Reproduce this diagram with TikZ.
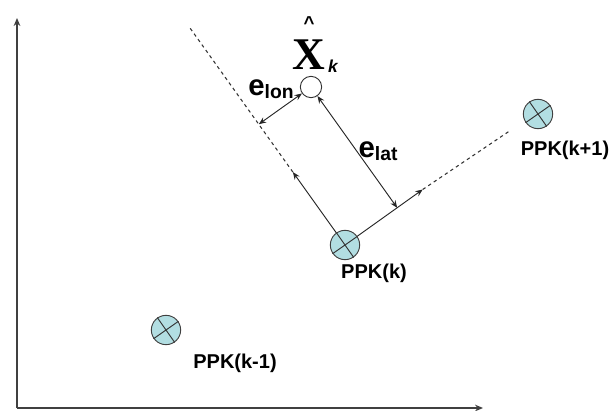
\documentclass[tikz,border=0pt]{standalone}
\usepackage{fontspec}
\setmainfont{Liberation Sans}
\newfontfamily\xfont{Liberation Serif}
\usetikzlibrary{arrows.meta, positioning}

\definecolor{ppkfill}{RGB}{178,222,226}
\newcommand{\errlabel}[1]{e\raisebox{-2.4pt}{\fontsize{14.5}{15}\selectfont #1}}

\begin{document}
\begin{tikzpicture}[
    x=0.75pt, y=-0.75pt,
    ppk/.style={circle, draw=black!75, fill=ppkfill, minimum size=22pt, inner sep=0pt, line width=0.7pt},
    est/.style={circle, draw=black!80, fill=white, minimum size=16pt, inner sep=0pt, line width=0.7pt},
    axis/.style={draw=black!75, line width=1.1pt, -{Stealth[length=6pt, width=5pt]}},
    track/.style={draw=black!85, line width=0.7pt},
    tip/.style={-{Stealth[length=5.5pt, width=4.5pt]}},
    guide/.style={draw=black!80, line width=0.8pt, dash pattern=on 2.5pt off 2.5pt},
    lbl/.style={font=\bfseries\fontsize{15}{17}\selectfont},
    err/.style={font=\bfseries\fontsize{22}{24}\selectfont, inner sep=0pt}
]
\useasboundingbox (0,0) rectangle (613,410);

% axes
\coordinate (orig) at (17,408);
\coordinate (ytop) at (17,18);
\coordinate (xend) at (483,408);
\draw[axis] (orig) -- (ytop);
\draw[axis] (orig) -- (xend);

% positions
\node[ppk] (pk)  at (345,245) {};
\node[ppk] (pkn) at (538,114) {};
\node[ppk] (pkp) at (166,330) {};
\node[est] (xk)  at (311,87) {};

% cross inside each ppk mark
\foreach \n in {pk, pkn, pkp} {
  \draw[black!80, line width=0.7pt] (\n.35) -- (\n.215);
  \draw[black!80, line width=0.7pt] (\n.125) -- (\n.305);
}

% along-track and cross-track directions
\coordinate (fwd)     at (292.9,172.1);
\coordinate (fwdend)  at (190,28);
\coordinate (side)    at (422.7,189.5);
\coordinate (sideend) at (511,130);
\coordinate (lonfoot) at (258.8,124.2);
\coordinate (latfoot) at (397.2,207.8);

\draw[track, tip] (pk) -- (fwd);
\draw[guide] (fwd) -- (fwdend);
\draw[track, tip] (pk) -- (side);
\draw[guide] (side) -- (sideend);

% errors
\draw[track, {Stealth[length=5.5pt, width=4.5pt]}-{Stealth[length=5.5pt, width=4.5pt]}] (latfoot) -- (xk);
\draw[track, {Stealth[length=5.5pt, width=4.5pt]}-{Stealth[length=5.5pt, width=4.5pt]}] (xk) -- (lonfoot);

% labels
\node[lbl] (lpk)  at (374,273) {PPK(k)};
\node[lbl] (lpkn) at (565,150) {PPK(k+1)};
\node[lbl] (lpkp) at (235,363) {PPK(k-1)};
\node[err] (elon) at (271,89) {\errlabel{lon}};
\node[err] (elat) at (378,151) {\errlabel{lat}};
\node[font=\xfont\bfseries\fontsize{34}{34}\selectfont, inner sep=0pt] (xlab) at (309,55) {X};
\node[font=\bfseries\fontsize{14}{14}\selectfont, inner sep=0pt] (xhat) at (309,23) {\textasciicircum};
\node[font=\bfseries\itshape\fontsize{13}{13}\selectfont, inner sep=0pt] (xsub) at (333,66) {k};
\end{tikzpicture}
\end{document}
